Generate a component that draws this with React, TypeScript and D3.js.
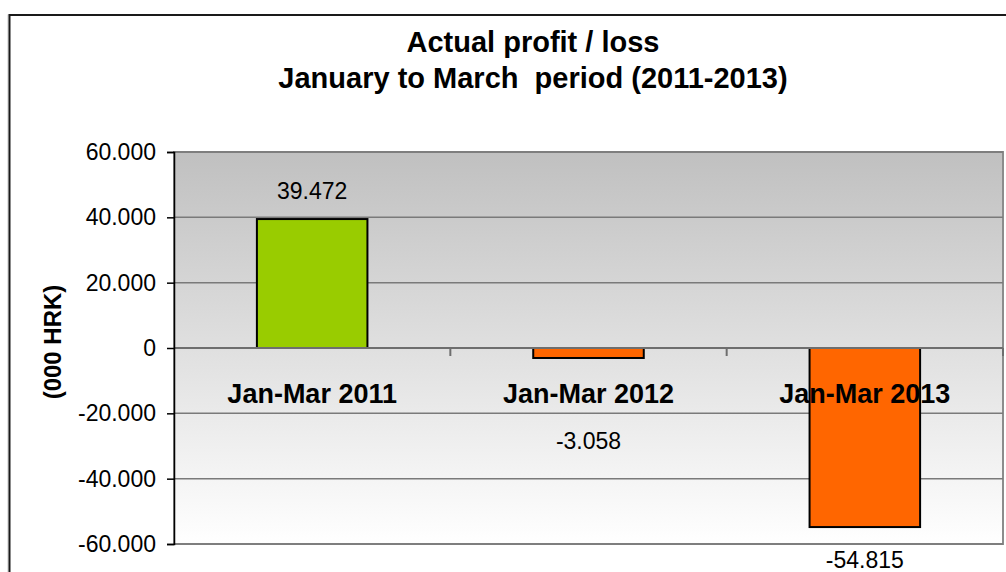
import React, { useRef, useEffect } from "react";
import * as d3 from "d3";

const categories = ["Jan-Mar 2011", "Jan-Mar 2012", "Jan-Mar 2013"];
const values = [39472, -3058, -54815];
const valueLabels = ["39.472", "-3.058", "-54.815"];
const yTicks = [60000, 40000, 20000, 0, -20000, -40000, -60000];
const yTickLabels = ["60.000", "40.000", "20.000", "0", "-20.000", "-40.000", "-60.000"];
const barColors = ["#99cc00", "#ff6600", "#ff6600"];

const W = 1006;
const H = 572;
const FONT = "'Liberation Sans', Arial, sans-serif";

const App = () => {
  const ref = useRef<SVGSVGElement | null>(null);

  useEffect(() => {
    const svg = d3.select(ref.current);
    svg.selectAll("*").remove();

    const left = 174;
    const right = 1003;
    const top = 152;
    const bottom = 544;

    const x = d3.scaleBand().domain(categories).range([left, right]).paddingInner(0.6).paddingOuter(0.3);
    const xCat = d3.scaleBand().domain(categories).range([left, right]);
    const y = d3.scaleLinear().domain([-60000, 60000]).range([bottom, top]);

    // outer frame
    svg.append("rect").attr("x", 8).attr("y", 15).attr("width", 1100).attr("height", 600)
      .attr("fill", "#fff").attr("stroke", "#c8c8c8").attr("stroke-width", 1);
    svg.append("rect").attr("x", 9.5).attr("y", 15).attr("width", 1100).attr("height", 600)
      .attr("fill", "none").attr("stroke", "#1a1a1a").attr("stroke-width", 2);

    // title
    const title = svg.append("text").attr("text-anchor", "middle").attr("font-family", FONT)
      .attr("font-weight", "bold").attr("font-size", 29).attr("fill", "#000")
      .style("white-space", "pre");
    title.append("tspan").attr("x", 533).attr("y", 52).text("Actual profit / loss");
    title.append("tspan").attr("x", 533).attr("y", 88).text("January to March  period (2011-2013)");

    // plot background gradient
    const defs = svg.append("defs");
    const grad = defs.append("linearGradient").attr("id", "bg").attr("x1", 0).attr("y1", 0).attr("x2", 0).attr("y2", 1);
    grad.append("stop").attr("offset", "0%").attr("stop-color", "#c0c0c0");
    grad.append("stop").attr("offset", "100%").attr("stop-color", "#ffffff");
    svg.append("rect").attr("x", left).attr("y", top).attr("width", right - left).attr("height", bottom - top)
      .attr("fill", "url(#bg)").attr("stroke", "#8c8c8c").attr("stroke-width", 2);

    // gridlines
    svg.append("g").selectAll("line").data(yTicks).join("line")
      .attr("x1", left).attr("x2", right)
      .attr("y1", (d) => y(d)).attr("y2", (d) => y(d))
      .attr("stroke", "#7a7a7a").attr("stroke-width", 1.5);

    // bars
    svg.append("g").selectAll("rect").data(values).join("rect")
      .attr("x", (_d, i) => x(categories[i])!)
      .attr("width", x.bandwidth())
      .attr("y", (d) => y(Math.max(0, d)))
      .attr("height", (d) => Math.abs(y(d) - y(0)))
      .attr("fill", (_d, i) => barColors[i])
      .attr("stroke", "#000").attr("stroke-width", 2);

    // zero axis line and category ticks
    svg.append("line").attr("x1", left).attr("x2", right).attr("y1", y(0)).attr("y2", y(0))
      .attr("stroke", "#6e6e6e").attr("stroke-width", 2);
    svg.append("g").selectAll("line").data(categories).join("line")
      .attr("x1", (d) => xCat(d)! + xCat.bandwidth()).attr("x2", (d) => xCat(d)! + xCat.bandwidth())
      .attr("y1", y(0)).attr("y2", y(0) + 8)
      .attr("stroke", "#6e6e6e").attr("stroke-width", 2);

    // y axis
    const yAxis = svg.append("g").attr("transform", `translate(${left},0)`)
      .call(d3.axisLeft(y).tickValues(yTicks).tickSize(7).tickPadding(11)
        .tickFormat((_d, i) => yTickLabels[i]));
    yAxis.select(".domain").attr("stroke", "#000").attr("stroke-width", 1.5);
    yAxis.selectAll(".tick line").attr("stroke", "#000").attr("stroke-width", 1.5);
    yAxis.selectAll(".tick text").attr("font-family", FONT).attr("font-size", 23).attr("fill", "#000");

    svg.append("text").attr("transform", "translate(61,342) rotate(-90)")
      .attr("text-anchor", "middle").attr("font-family", FONT).attr("font-weight", "bold")
      .attr("font-size", 24).attr("fill", "#000").text("(000 HRK)");

    // category labels
    svg.append("g").selectAll("text").data(categories).join("text")
      .attr("x", (d) => xCat(d)! + xCat.bandwidth() / 2).attr("y", 403)
      .attr("text-anchor", "middle").attr("font-family", FONT).attr("font-weight", "bold")
      .attr("font-size", 27).attr("fill", "#000").text((d) => d);

    // data labels (negative labels sit below the category labels)
    svg.append("g").selectAll("text").data(values).join("text")
      .attr("x", (_d, i) => x(categories[i])! + x.bandwidth() / 2)
      .attr("y", (d) => (d >= 0 ? y(d) - 20 : Math.max(y(d) + 41, 449)))
      .attr("text-anchor", "middle").attr("font-family", FONT)
      .attr("font-size", 23).attr("fill", "#000").text((_d, i) => valueLabels[i]);
  }, []);

  return (
    <svg ref={ref} width={W} height={H} style={{ position: "absolute", left: 0, top: 0, background: "#fff" }} />
  );
};

export default App;
